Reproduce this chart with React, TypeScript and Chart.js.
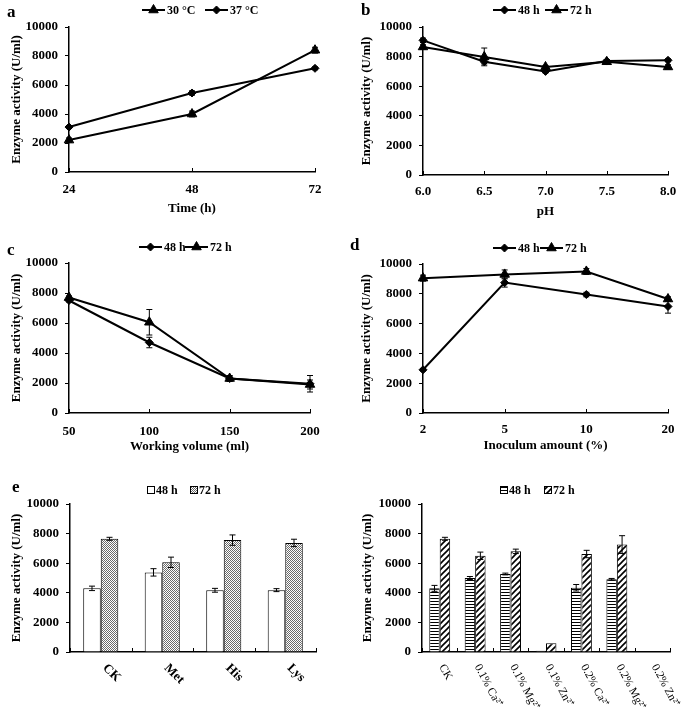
import React, { useEffect, useRef } from "react";
import { Chart, registerables } from "chart.js";
Chart.register(...registerables);

const FONT = '"Liberation Serif", "Times New Roman", serif';

// ---------- data ----------
// a: temperature
const timeLabels = ["24", "48", "72"];
const temp30 = [2200, 4000, 8400];
const temp30Err = [150, 200, 200];
const temp37 = [3100, 5450, 7150];
const temp37Err = [100, 150, 100];

// b: pH
const phLabels = ["6.0", "6.5", "7.0", "7.5", "8.0"];
const ph48 = [9100, 7650, 7000, 7700, 7750];
const ph48Err = [150, 150, 100, 100, 100];
const ph72 = [8650, 7980, 7300, 7650, 7300];
const ph72Err = [150, 600, 100, 150, 150];

// c: working volume
const volLabels = ["50", "100", "150", "200"];
const vol48 = [7500, 4700, 2300, 1950];
const vol48Err = [100, 350, 150, 550];
const vol72 = [7700, 6050, 2300, 1900];
const vol72Err = [100, 850, 200, 300];

// d: inoculum amount
const inocLabels = ["2", "5", "10", "20"];
const inoc48 = [2900, 8750, 7950, 7150];
const inoc48Err = [80, 300, 150, 450];
const inoc72 = [9050, 9300, 9500, 7650];
const inoc72Err = [200, 300, 200, 150];

// e: amino acids
const aminoLabels = ["CK", "Met", "His", "Lys"];
const amino48 = [4300, 5380, 4170, 4180];
const amino48Err = [150, 250, 130, 100];
const amino72 = [7650, 6060, 7560, 7370];
const amino72Err = [100, 350, 350, 250];

// f: metal ions
const ionLabels = ["CK", "0.1% Ca²⁺", "0.1% Mg²⁺", "0.1% Zn²⁺", "0.2% Ca²⁺", "0.2% Mg²⁺", "0.2% Zn²⁺"];
const ion48 = [4300, 5000, 5270, 80, 4340, 4910, 20];
const ion48Err = [200, 100, 60, 0, 220, 60, 0];
const ion72 = [7650, 6500, 6800, 590, 6620, 7260, 20];
const ion72Err = [100, 250, 150, 0, 250, 600, 0];

const tempNames = ["30 °C", "37 °C"];
const timeNames = ["48 h", "72 h"];
const xTitles = ["Time (h)", "pH", "Working volume (ml)", "Inoculum amount (%)"];
const yTitle = "Enzyme activity (U/ml)";
const yMin = 0;
const yMax = 10000;
const yStep = 2000;

// ---------- patterns ----------
function makePattern(kind: string) {
  const c = document.createElement("canvas");
  const g = c.getContext("2d")!;
  if (kind === "dots") {
    c.width = 2; c.height = 2;
    g.fillStyle = "#fff"; g.fillRect(0, 0, 2, 2);
    g.fillStyle = "#6a6a6a"; g.fillRect(0, 0, 1, 1); g.fillRect(1, 1, 1, 1);
  } else if (kind === "hstripes") {
    c.width = 4; c.height = 3;
    g.fillStyle = "#fff"; g.fillRect(0, 0, 4, 3);
    g.fillStyle = "#000"; g.fillRect(0, 0, 4, 1);
  } else {
    c.width = 6; c.height = 6;
    g.fillStyle = "#fff"; g.fillRect(0, 0, 6, 6);
    g.strokeStyle = "#000"; g.lineWidth = 1.6;
    g.beginPath();
    g.moveTo(-1, 7); g.lineTo(7, -1);
    g.moveTo(-1, 1); g.lineTo(1, -1);
    g.moveTo(5, 7); g.lineTo(7, 5);
    g.stroke();
  }
  return g.createPattern(c, "repeat");
}

// ---------- plugins ----------
const errorBarPlugin = {
  id: "errorBars",
  afterDatasetsDraw(chart: any) {
    const ctx = chart.ctx;
    const ys = chart.scales.y;
    chart.data.datasets.forEach((ds: any, di: number) => {
      const errs = ds.errors;
      if (!errs) return;
      const meta = chart.getDatasetMeta(di);
      meta.data.forEach((el: any, i: number) => {
        const e = errs[i];
        if (!e) return;
        const v = ds.data[i];
        const x = el.x;
        const yt = ys.getPixelForValue(v + e);
        const yb = ys.getPixelForValue(Math.max(0, v - e));
        const cap = 3;
        ctx.save();
        ctx.strokeStyle = "#000";
        ctx.lineWidth = 1;
        ctx.beginPath();
        ctx.moveTo(x, yt); ctx.lineTo(x, yb);
        ctx.moveTo(x - cap, yt); ctx.lineTo(x + cap, yt);
        ctx.moveTo(x - cap, yb); ctx.lineTo(x + cap, yb);
        ctx.stroke();
        ctx.restore();
      });
    });
  },
};

function drawMarker(ctx: CanvasRenderingContext2D, style: string, x: number, y: number, r: number) {
  ctx.beginPath();
  if (style === "triangle") {
    for (let k = 0; k < 3; k++) {
      const a = -Math.PI / 2 + (k * 2 * Math.PI) / 3;
      const px = x + r * Math.cos(a);
      const py = y + r * Math.sin(a);
      if (k === 0) ctx.moveTo(px, py); else ctx.lineTo(px, py);
    }
  } else {
    ctx.moveTo(x, y - r); ctx.lineTo(x + r, y); ctx.lineTo(x, y + r); ctx.lineTo(x - r, y);
  }
  ctx.closePath();
  ctx.fill();
  ctx.lineWidth = 1;
  ctx.stroke();
}

function makeDecor(p: any) {
  return {
    id: "decor",
    afterDraw(chart: any) {
      const ctx = chart.ctx as CanvasRenderingContext2D;
      const xs = chart.scales.x;
      const area = chart.chartArea;
      ctx.save();
      ctx.fillStyle = "#000";
      ctx.strokeStyle = "#000";
      // inward tick marks on the x axis
      ctx.lineWidth = 1;
      ctx.beginPath();
      const n = chart.data.labels.length;
      for (let i = 0; i < (p.bar ? n + 1 : n); i++) {
        const tx = Math.round(xs.getPixelForValue(p.bar ? i - 0.5 : i)) + 0.5;
        ctx.moveTo(tx, area.bottom);
        ctx.lineTo(tx, area.bottom - 4);
      }
      ctx.stroke();
      if (p.letter) {
        ctx.font = `bold 17px ${FONT}`;
        ctx.textAlign = "left";
        ctx.textBaseline = "alphabetic";
        ctx.fillText(p.letter, p.letterPos[0], p.letterPos[1]);
      }
      // legend
      ctx.font = `bold 12px ${FONT}`;
      ctx.textBaseline = "middle";
      ctx.textAlign = "left";
      chart.data.datasets.forEach((ds: any, i: number) => {
        const pos = p.legendPos[i];
        if (!pos) return;
        const [lx, ly] = pos;
        if (p.bar) {
          ctx.fillStyle = ds.backgroundColor;
          ctx.fillRect(lx, ly - 3.5, 7, 7);
          ctx.lineWidth = 1;
          ctx.strokeStyle = "#000";
          ctx.strokeRect(lx + 0.5, ly - 3.5, 7, 7);
          ctx.fillStyle = "#000";
          ctx.fillText(ds.label, lx + 9, ly + 1);
        } else {
          ctx.lineWidth = 2;
          ctx.strokeStyle = "#000";
          ctx.beginPath();
          ctx.moveTo(lx, ly); ctx.lineTo(lx + 23, ly);
          ctx.stroke();
          ctx.fillStyle = "#000";
          drawMarker(ctx, ds.pointStyle, lx + 11.5, ly, ds.pointRadius);
          ctx.fillText(ds.label, lx + 25, ly + 1);
        }
      });
      // rotated category labels
      if (p.rot) {
        const r = p.rot;
        chart.data.labels.forEach((lab: string, i: number) => {
          const px = xs.getPixelForValue(i) + r.dx;
          const py = area.bottom + r.dy;
          ctx.save();
          ctx.translate(px, py);
          ctx.rotate((r.angle * Math.PI) / 180);
          ctx.font = r.font;
          ctx.fillStyle = "#000";
          ctx.textAlign = "left";
          ctx.textBaseline = "middle";
          ctx.fillText(String(lab), 0, 0);
          ctx.restore();
        });
      }
      ctx.restore();
    },
  };
}

// ---------- config builders ----------
const tickFont = { family: FONT, size: 13, weight: "bold" as const };

function baseOptions(p: any) {
  const a = p.area;
  const isBar = !!p.bar;
  return {
    responsive: false,
    maintainAspectRatio: false,
    animation: false,
    devicePixelRatio: 1,
    layout: { padding: { left: 0, top: a.t, right: p.w - a.r, bottom: 0 } },
    plugins: { legend: { display: false }, tooltip: { enabled: false }, title: { display: false } },
    scales: {
      x: {
        type: "category",
        offset: isBar,
        afterFit: (s: any) => { s.height = p.h - a.b; s.paddingLeft = 0; s.paddingRight = 0; },
        border: { display: true, color: "#000", width: 1.5 },
        grid: { display: false, drawOnChartArea: false, drawTicks: false },
        ticks: { display: !isBar, color: "#000", padding: p.xTickPad || 10, font: tickFont, maxRotation: 0, minRotation: 0, autoSkip: false },
        title: isBar
          ? { display: false }
          : { display: true, text: p.xTitle, color: "#000", font: tickFont, padding: { top: 0, bottom: p.xTitlePad } },
      },
      y: {
        min: yMin,
        max: yMax,
        afterFit: (s: any) => { s.width = a.l; },
        border: { display: true, color: "#000", width: 1.5 },
        grid: { display: true, drawOnChartArea: false, drawTicks: true, tickLength: 4, color: "#000", lineWidth: 1 },
        ticks: { stepSize: yStep, padding: 7, color: "#000", font: tickFont, callback: (v: any) => String(v) },
        title: { display: true, text: yTitle, color: "#000", font: tickFont, padding: { top: p.yTitlePad, bottom: 0 } },
      },
    },
  };
}

function lineConfig(p: any) {
  return {
    type: "line",
    data: {
      labels: p.labels,
      datasets: p.series.map((s: any) => ({
        label: s.label,
        data: s.data,
        errors: s.err,
        borderColor: "#000",
        backgroundColor: "#000",
        borderWidth: 2,
        pointStyle: s.marker,
        pointRadius: s.marker === "triangle" ? 5.5 : 4,
        pointBackgroundColor: "#000",
        pointBorderColor: "#000",
        pointBorderWidth: 1,
        tension: 0,
        fill: false,
      })),
    },
    options: baseOptions(p),
    plugins: [errorBarPlugin, makeDecor(p)],
  };
}

function barConfig(p: any) {
  return {
    type: "bar",
    data: {
      labels: p.labels,
      datasets: p.series.map((s: any) => ({
        label: s.label,
        data: s.data,
        errors: s.err,
        backgroundColor: s.fill,
        borderColor: "#000",
        borderWidth: 1,
        categoryPercentage: p.catPct,
        barPercentage: 1,
      })),
    },
    options: baseOptions(p),
    plugins: [errorBarPlugin, makeDecor(p)],
  };
}

export default function App() {
  const refs = [useRef<HTMLCanvasElement>(null), useRef<HTMLCanvasElement>(null), useRef<HTMLCanvasElement>(null),
    useRef<HTMLCanvasElement>(null), useRef<HTMLCanvasElement>(null), useRef<HTMLCanvasElement>(null)];

  const panels: any[] = [
    { left: 0, top: 0, w: 340, h: 222, area: { l: 69, t: 27, r: 315, b: 172 }, letter: "a", letterPos: [7, 17],
      legendPos: [[142, 10], [205, 10]], xTitle: xTitles[0], xTickPad: 10, xTitlePad: 6, yTitlePad: 9,
      labels: timeLabels,
      series: [ { label: tempNames[0], data: temp30, err: temp30Err, marker: "triangle" },
                { label: tempNames[1], data: temp37, err: temp37Err, marker: "rectRot" } ] },
    { left: 340, top: 0, w: 341, h: 222, area: { l: 83, t: 27, r: 328, b: 175 }, letter: "b", letterPos: [21, 15],
      legendPos: [[153, 10], [205, 10]], xTitle: xTitles[1], xTickPad: 9, xTitlePad: 3, yTitlePad: 19,
      labels: phLabels,
      series: [ { label: timeNames[0], data: ph48, err: ph48Err, marker: "rectRot" },
                { label: timeNames[1], data: ph72, err: ph72Err, marker: "triangle" } ] },
    { left: 0, top: 222, w: 340, h: 238, area: { l: 69, t: 41, r: 310, b: 191 }, letter: "c", letterPos: [7, 33],
      legendPos: [[139, 25], [185, 25]], xTitle: xTitles[2], xTickPad: 11, xTitlePad: 6, yTitlePad: 9,
      labels: volLabels,
      series: [ { label: timeNames[0], data: vol48, err: vol48Err, marker: "rectRot" },
                { label: timeNames[1], data: vol72, err: vol72Err, marker: "triangle" } ] },
    { left: 340, top: 222, w: 341, h: 238, area: { l: 83, t: 42, r: 328, b: 191 }, letter: "d", letterPos: [10, 28],
      legendPos: [[153, 26], [200, 26]], xTitle: xTitles[3], xTickPad: 9, xTitlePad: 7, yTitlePad: 19,
      labels: inocLabels,
      series: [ { label: timeNames[0], data: inoc48, err: inoc48Err, marker: "rectRot" },
                { label: timeNames[1], data: inoc72, err: inoc72Err, marker: "triangle" } ] },
    { left: 0, top: 460, w: 340, h: 253, area: { l: 70, t: 44, r: 316, b: 192 }, letter: "e", letterPos: [12, 32],
      legendPos: [[147, 30], [190, 30]], bar: true, catPct: 0.57, yTitlePad: 9,
      rot: { dx: 4, dy: 14, angle: 45, font: `bold 13px ${FONT}` },
      labels: aminoLabels,
      series: [ { label: timeNames[0], data: amino48, err: amino48Err, fill: "#ffffff" },
                { label: timeNames[1], data: amino72, err: amino72Err, fill: "dots" } ] },
    { left: 340, top: 460, w: 341, h: 253, area: { l: 82, t: 44, r: 330, b: 192 }, letter: "", letterPos: [0, 0],
      legendPos: [[160, 30], [204, 30]], bar: true, catPct: 0.59, yTitlePad: 20,
      rot: { dx: 2, dy: 13, angle: 62, font: `11.5px ${FONT}` },
      labels: ionLabels,
      series: [ { label: timeNames[0], data: ion48, err: ion48Err, fill: "hstripes" },
                { label: timeNames[1], data: ion72, err: ion72Err, fill: "diag" } ] },
  ];

  useEffect(() => {
    Chart.defaults.color = "#000";
    Chart.defaults.font.family = FONT;
    const charts: Chart[] = [];
    panels.forEach((p, i) => {
      const cv = refs[i].current;
      if (!cv) return;
      if (p.bar) {
        p.series.forEach((s: any) => {
          if (s.fill === "dots" || s.fill === "hstripes" || s.fill === "diag") s.fill = makePattern(s.fill);
        });
      }
      const cfg: any = p.bar ? barConfig(p) : lineConfig(p);
      charts.push(new Chart(cv, cfg));
    });
    return () => charts.forEach((c) => c.destroy());
  }, []);

  return (
    <div style={{ position: "absolute", left: 0, top: 0, width: 681, height: 713, background: "#fff", overflow: "hidden" }}>
      {panels.map((p, i) => (
        <canvas
          key={i}
          ref={refs[i]}
          width={p.w}
          height={p.h}
          style={{ position: "absolute", left: p.left, top: p.top, width: p.w, height: p.h }}
        />
      ))}
    </div>
  );
}
